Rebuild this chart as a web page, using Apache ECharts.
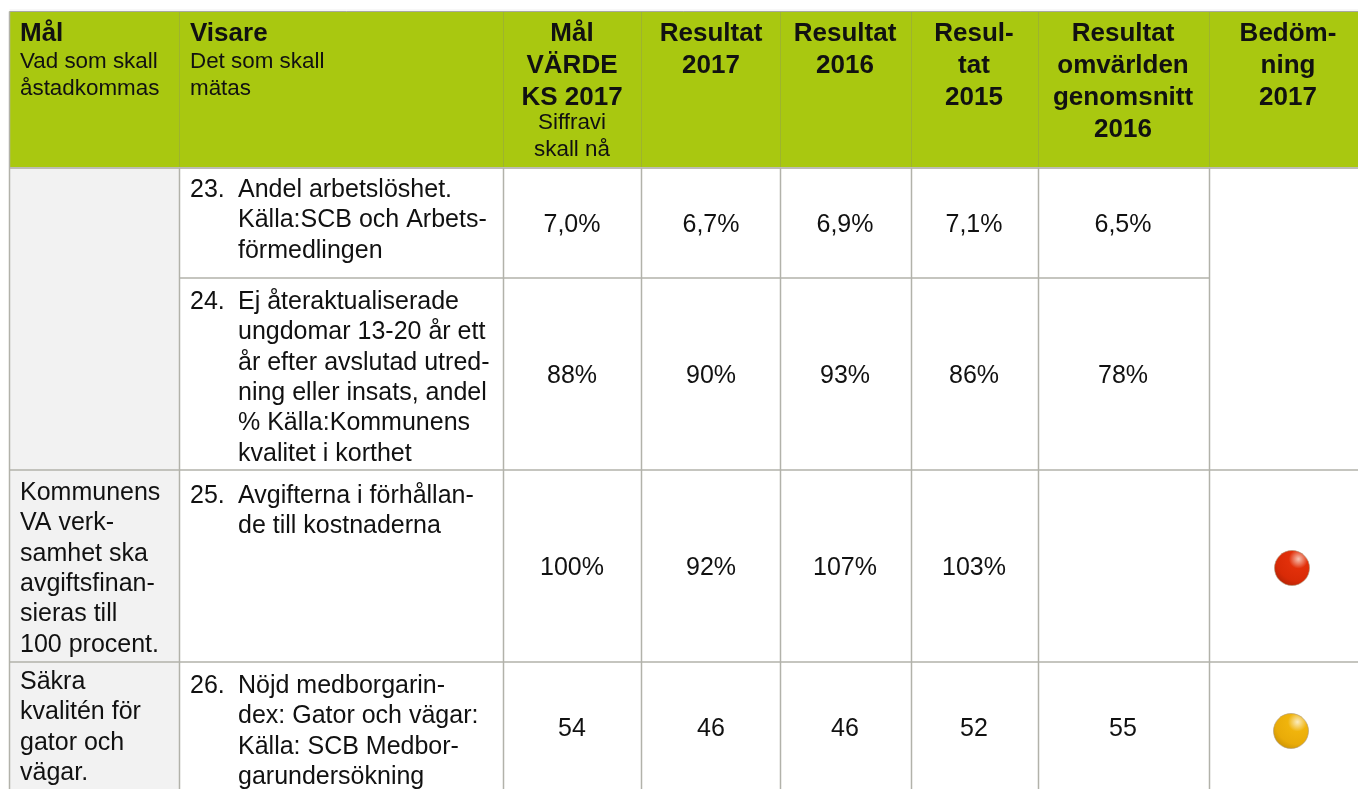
<!DOCTYPE html>
<html>
<head>
<meta charset="utf-8">
<style>html,body{margin:0;padding:0;background:#fff}#c{width:1358px;height:789px}</style>
<script src="https://cdn.jsdelivr.net/npm/echarts@6/dist/echarts.min.js"></script>
</head>
<body>
<div id="c"></div>
<script>
// ---------- table content ----------
const headMain = [["Mål"],["Visare"],["Mål","VÄRDE","KS 2017"],["Resultat","2017"],["Resultat","2016"],["Resul-","tat","2015"],["Resultat","omvärlden","genomsnitt","2016"],["Bedöm-","ning","2017"]];
const headSub = [["Vad som skall","åstadkommas"],["Det som skall","mätas"],["Siffravi","skall nå"],[],[],[],[],[]];
const goals = [[],[],["Kommunens","VA verk-","samhet ska","avgiftsfinan-","sieras till","100 procent."],["Säkra","kvalitén för","gator och","vägar."]];
const indicatorNumbers = ["23.","24.","25.","26."];
const indicators = [
  ["Andel arbetslöshet.","Källa:SCB och Arbets-","förmedlingen"],
  ["Ej återaktualiserade","ungdomar 13-20 år ett","år efter avslutad utred-","ning eller insats, andel","% Källa:Kommunens","kvalitet i korthet"],
  ["Avgifterna i förhållan-","de till kostnaderna"],
  ["Nöjd medborgarin-","dex: Gator och vägar:","Källa: SCB Medbor-","garundersökning"]
];
const target2017 = ["7,0%","88%","100%","54"];
const result2017 = ["6,7%","90%","92%","46"];
const result2016 = ["6,9%","93%","107%","46"];
const result2015 = ["7,1%","86%","103%","52"];
const peers2016 = ["6,5%","78%","","55"];
const assessment2017 = ["","","red","yellow"];

// ---------- layout ----------
const W = 1358, H = 789;
const colX = [9.5, 179.5, 503.5, 641.5, 780.5, 911.5, 1038.5, 1209.5, 1358];
const rowY = [11.5, 168, 278, 470, 662, 800];
const colCenter = [null, null, 572, 711, 845, 974, 1123, 1288];
const rowCenter = [225, 376, 568, 729];
const indicatorTop = [190, 302, 496, 686];
const goalTop = [0, 0, 493, 682];
const GREEN = '#a9c810', LINE = '#b2b2aa', HEADLINE = '#9db42e', GOALBG = '#f2f2f2', INK = '#111';

const rects = [
  [colX[0], rowY[0], W, rowY[1], GREEN],
  [colX[0], rowY[1], colX[1], H, GOALBG]
];
const lines = [];
lines.push([colX[0], 10, W, 10, '#eeeeee', 1]);
for (let i = 1; i < 8; i++) lines.push([colX[i], rowY[0], colX[i], rowY[1], HEADLINE, 1]);
lines.push([colX[0], rowY[0], W, rowY[0], '#a8a8a0', 1]);
lines.push([colX[0], rowY[1], W, rowY[1], '#bcbcb4', 2]);
lines.push([colX[0], rowY[0], colX[0], H, LINE, 1.5]);
for (let i = 1; i < 8; i++) lines.push([colX[i], rowY[1], colX[i], H, LINE, 1.5]);
lines.push([colX[1], rowY[2], colX[7], rowY[2], LINE, 1.5]);
lines.push([colX[0], rowY[3], W, rowY[3], LINE, 1.5]);
lines.push([colX[0], rowY[4], W, rowY[4], LINE, 1.5]);

const BOLD = 0, SUB = 1, BODY = 2;
const texts = [];
function push(x, y, s, align, kind) { texts.push([x, y, s, align, kind]); }
const headLeftX = [20, 190];
headMain.forEach((ls, c) => {
  const x = c < 2 ? headLeftX[c] : colCenter[c];
  ls.forEach((s, i) => push(x, 34 + i * 32, s, c < 2 ? 'left' : 'center', BOLD));
});
headSub.forEach((ls, c) => {
  const x = c < 2 ? headLeftX[c] : colCenter[c];
  const top = c < 2 ? 62 : 123;
  ls.forEach((s, i) => push(x, top + i * 27, s, c < 2 ? 'left' : 'center', SUB));
});
goals.forEach((ls, r) => ls.forEach((s, i) => push(20, goalTop[r] + i * 30.4, s, 'left', BODY)));
indicators.forEach((ls, r) => {
  push(190, indicatorTop[r], indicatorNumbers[r], 'left', BODY);
  ls.forEach((s, i) => push(238, indicatorTop[r] + i * 30.4, s, 'left', BODY));
});
[target2017, result2017, result2016, result2015, peers2016].forEach((vals, k) => {
  vals.forEach((s, r) => { if (s) push(colCenter[k + 2], rowCenter[r], s, 'center', BODY); });
});

const dotColors = {
  red: ['#f6c4b4', '#e2300a', '#d82a06', '#9c1e04'],
  yellow: ['#fbecc0', '#f0b40c', '#e9ab08', '#b98404']
};
const dotXY = { red: 1292, yellow: 1291 };
const dots = [];
assessment2017.forEach((a, r) => { if (a) dots.push({ value: [dotXY[a], r === 2 ? 568 : 731], name: a }); });

const fonts = [
  { fontSize: 26, fontWeight: 'bold' },
  { fontSize: 22.4, fontWeight: 'normal' },
  { fontSize: 25, fontWeight: 'normal' }
];

const chart = echarts.init(document.getElementById('c'), null, { renderer: 'canvas' });
chart.setOption({
  animation: false,
  backgroundColor: '#fff',
  grid: { left: 0, top: 0, width: W, height: H },
  xAxis: { type: 'value', min: 0, max: W, show: false },
  yAxis: { type: 'value', min: 0, max: H, inverse: true, show: false },
  series: [
    {
      type: 'custom', silent: true, clip: true, data: rects, encode: { x: [0, 2], y: [1, 3] }, z: 1,
      renderItem(p, api) {
        const a = api.coord([api.value(0), api.value(1)]), b = api.coord([api.value(2), api.value(3)]);
        return { type: 'rect', shape: { x: a[0], y: a[1], width: b[0] - a[0], height: b[1] - a[1] }, style: { fill: rects[p.dataIndex][4] } };
      }
    },
    {
      type: 'custom', silent: true, clip: true, data: lines, encode: { x: [0, 2], y: [1, 3] }, z: 2,
      renderItem(p, api) {
        const a = api.coord([api.value(0), api.value(1)]), b = api.coord([api.value(2), api.value(3)]);
        return { type: 'line', shape: { x1: a[0], y1: a[1], x2: b[0], y2: b[1] }, style: { stroke: lines[p.dataIndex][4], lineWidth: lines[p.dataIndex][5] } };
      }
    },
    {
      type: 'custom', silent: true, data: texts.map(t => [t[0], t[1]]), encode: { x: 0, y: 1 }, z: 3,
      renderItem(p, api) {
        const t = texts[p.dataIndex], f = fonts[t[4]];
        const a = api.coord([t[0], t[1]]);
        return {
          type: 'text', x: a[0], y: a[1],
          style: { text: t[2], fill: INK, font: f.fontWeight + ' ' + f.fontSize + 'px "Liberation Sans", Arial, sans-serif', textAlign: t[3], verticalAlign: 'middle' }
        };
      }
    },
    {
      type: 'scatter', silent: true, symbol: 'circle', symbolSize: 35, z: 4, data: dots,
      itemStyle: {
        opacity: 1,
        color(p) {
          const c = dotColors[p.name];
          return new echarts.graphic.RadialGradient(0.68, 0.25, 0.95, [
            { offset: 0, color: c[0] }, { offset: 0.28, color: c[1] }, { offset: 0.65, color: c[2] }, { offset: 1, color: c[3] }
          ]);
        },
        borderColor: 'rgba(170,150,120,0.6)', borderWidth: 1
      }
    }
  ]
});
</script>
</body>
</html>
